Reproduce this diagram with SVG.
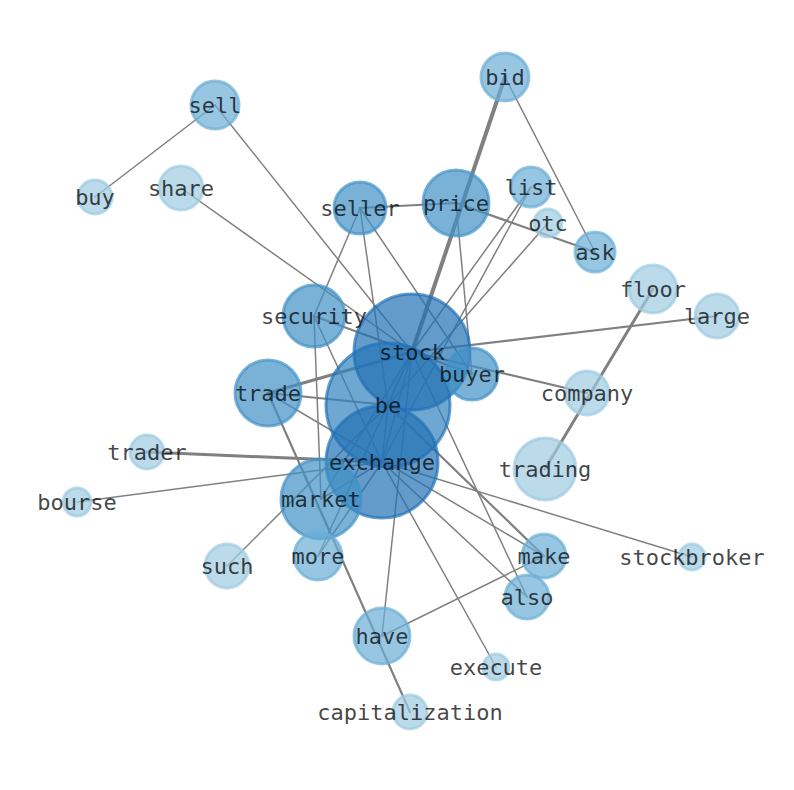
<svg xmlns="http://www.w3.org/2000/svg" width="794" height="790" viewBox="0 0 794 790">
<style>
.e{stroke:#808080;stroke-width:1.5;fill:none;stroke-linecap:round}
.t2{stroke-width:2.2}
.t3{stroke-width:3}
.t4{stroke-width:4}
.n circle{fill-opacity:0.7;stroke-opacity:0.7;stroke-width:3}
.l1 circle{fill:#9ecae1;stroke:#9ecae1}
.l2 circle{fill:#6baed6;stroke:#6baed6}
.l3 circle{fill:#4292c6;stroke:#4292c6}
.l4 circle{fill:#2171b5;stroke:#2171b5}
.l5 circle{fill:#3182bd;stroke:#2171b5}
#labels text{font-family:"DejaVu Sans Mono",monospace;font-size:22px;fill:#000;fill-opacity:0.74;text-anchor:middle;dominant-baseline:central}
</style>
<rect width="794" height="790" fill="#fff"/>
<g id="connectors">
<line class="e" x1="215" y1="105" x2="95" y2="197"/>
<line class="e" x1="215" y1="105" x2="412" y2="352"/>
<line class="e" x1="181" y1="188" x2="412" y2="352"/>
<line class="e t2" x1="360" y1="208" x2="456" y2="203"/>
<line class="e" x1="360" y1="208" x2="314" y2="316"/>
<line class="e" x1="360" y1="208" x2="388" y2="405"/>
<line class="e" x1="360" y1="208" x2="472" y2="374"/>
<line class="e t4" x1="505" y1="77" x2="412" y2="352"/>
<line class="e" x1="505" y1="77" x2="595" y2="252"/>
<line class="e t2" x1="456" y1="203" x2="595" y2="252"/>
<line class="e" x1="456" y1="203" x2="472" y2="374"/>
<line class="e" x1="531" y1="187" x2="412" y2="352"/>
<line class="e" x1="531" y1="187" x2="382" y2="462"/>
<line class="e" x1="548" y1="223" x2="388" y2="405"/>
<line class="e t2" x1="412" y1="352" x2="717" y2="316"/>
<line class="e t3" x1="653" y1="289" x2="545" y2="469"/>
<line class="e t2" x1="412" y1="352" x2="587" y2="393"/>
<line class="e t2" x1="314" y1="316" x2="412" y2="352"/>
<line class="e" x1="314" y1="316" x2="321" y2="499"/>
<line class="e" x1="314" y1="316" x2="382" y2="462"/>
<line class="e t3" x1="268" y1="393" x2="412" y2="352"/>
<line class="e t2" x1="268" y1="393" x2="388" y2="405"/>
<line class="e t2" x1="268" y1="393" x2="410" y2="712"/>
<line class="e" x1="268" y1="393" x2="544" y2="556"/>
<line class="e t3" x1="147" y1="452" x2="382" y2="462"/>
<line class="e" x1="77" y1="502" x2="382" y2="462"/>
<line class="e" x1="227" y1="566" x2="388" y2="405"/>
<line class="e" x1="321" y1="499" x2="412" y2="352"/>
<line class="e" x1="321" y1="499" x2="382" y2="462"/>
<line class="e" x1="318" y1="556" x2="382" y2="462"/>
<line class="e" x1="318" y1="556" x2="412" y2="352"/>
<line class="e" x1="382" y1="636" x2="412" y2="352"/>
<line class="e" x1="382" y1="636" x2="544" y2="556"/>
<line class="e" x1="496" y1="667" x2="382" y2="462"/>
<line class="e" x1="527" y1="597" x2="382" y2="462"/>
<line class="e" x1="527" y1="597" x2="412" y2="352"/>
<line class="e t2" x1="544" y1="556" x2="388" y2="405"/>
<line class="e" x1="382" y1="462" x2="692" y2="557"/>
<line class="e" x1="388" y1="405" x2="412" y2="352"/>
<line class="e" x1="388" y1="405" x2="382" y2="462"/>
<line class="e" x1="412" y1="352" x2="472" y2="374"/>
<line class="e" x1="412" y1="352" x2="382" y2="462"/>
</g>
<g id="node-be" class="n l5"><circle cx="388" cy="405" r="62"/></g>
<g id="node-stock" class="n l4"><circle cx="412" cy="352" r="58"/></g>
<g id="node-exchange" class="n l4"><circle cx="382" cy="462" r="56"/></g>
<g id="node-market" class="n l3"><circle cx="321" cy="499" r="40"/></g>
<g id="node-trade" class="n l3"><circle cx="268" cy="393" r="33"/></g>
<g id="node-security" class="n l3"><circle cx="314" cy="316" r="31"/></g>
<g id="node-price" class="n l3"><circle cx="456" cy="203" r="33"/></g>
<g id="node-seller" class="n l3"><circle cx="360" cy="208" r="26"/></g>
<g id="node-buyer" class="n l3"><circle cx="472" cy="374" r="26"/></g>
<g id="node-bid" class="n l2"><circle cx="505" cy="77" r="24"/></g>
<g id="node-sell" class="n l2"><circle cx="215" cy="105" r="24"/></g>
<g id="node-list" class="n l2"><circle cx="531" cy="187" r="20"/></g>
<g id="node-ask" class="n l2"><circle cx="595" cy="252" r="20"/></g>
<g id="node-more" class="n l2"><circle cx="318" cy="556" r="24"/></g>
<g id="node-have" class="n l2"><circle cx="382" cy="636" r="28"/></g>
<g id="node-make" class="n l2"><circle cx="544" cy="556" r="22"/></g>
<g id="node-also" class="n l2"><circle cx="527" cy="597" r="22"/></g>
<g id="node-buy" class="n l1"><circle cx="95" cy="197" r="17"/></g>
<g id="node-share" class="n l1"><circle cx="181" cy="188" r="22"/></g>
<g id="node-otc" class="n l1"><circle cx="548" cy="223" r="14"/></g>
<g id="node-floor" class="n l1"><circle cx="653" cy="289" r="24"/></g>
<g id="node-large" class="n l1"><circle cx="717" cy="316" r="22"/></g>
<g id="node-company" class="n l1"><circle cx="587" cy="393" r="22"/></g>
<g id="node-trading" class="n l1"><circle cx="545" cy="469" r="31"/></g>
<g id="node-trader" class="n l1"><circle cx="147" cy="452" r="17"/></g>
<g id="node-bourse" class="n l1"><circle cx="77" cy="502" r="14"/></g>
<g id="node-such" class="n l1"><circle cx="227" cy="566" r="22"/></g>
<g id="node-stockbroker" class="n l1"><circle cx="692" cy="557" r="13"/></g>
<g id="node-execute" class="n l1"><circle cx="496" cy="667" r="13"/></g>
<g id="node-capitalization" class="n l1"><circle cx="410" cy="712" r="17"/></g>
<g id="labels">
<text x="388" y="405">be</text>
<text x="412" y="352">stock</text>
<text x="382" y="462">exchange</text>
<text x="321" y="499">market</text>
<text x="268" y="393">trade</text>
<text x="314" y="316">security</text>
<text x="456" y="203">price</text>
<text x="360" y="208">seller</text>
<text x="472" y="374">buyer</text>
<text x="505" y="77">bid</text>
<text x="215" y="105">sell</text>
<text x="531" y="187">list</text>
<text x="595" y="252">ask</text>
<text x="318" y="556">more</text>
<text x="382" y="636">have</text>
<text x="544" y="556">make</text>
<text x="527" y="597">also</text>
<text x="95" y="197">buy</text>
<text x="181" y="188">share</text>
<text x="548" y="223">otc</text>
<text x="653" y="289">floor</text>
<text x="717" y="316">large</text>
<text x="587" y="393">company</text>
<text x="545" y="469">trading</text>
<text x="147" y="452">trader</text>
<text x="77" y="502">bourse</text>
<text x="227" y="566">such</text>
<text x="692" y="557">stockbroker</text>
<text x="496" y="667">execute</text>
<text x="410" y="712">capitalization</text>
</g>
</svg>
